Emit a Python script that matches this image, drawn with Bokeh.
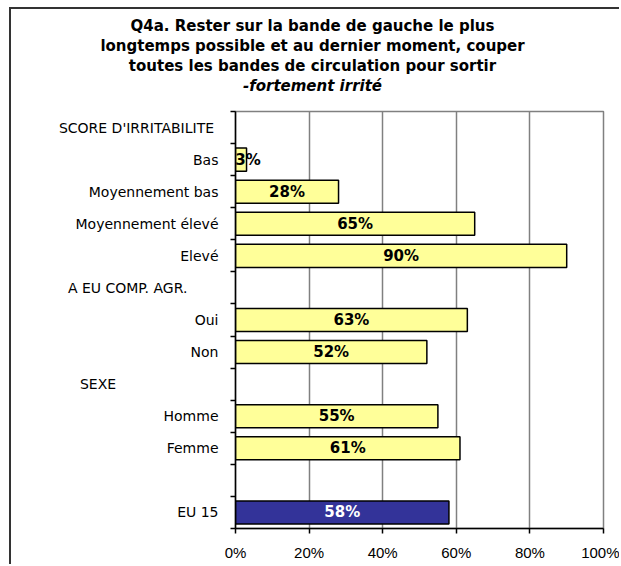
from bokeh.plotting import figure
from bokeh.models import (Range1d, FixedTicker, NumeralTickFormatter,
                          ColumnDataSource, LabelSet, LinearAxis)
from bokeh.core.properties import value
from bokeh.embed import file_html
from bokeh.resources import INLINE

# ---- data ----
title_lines = [
    "Q4a. Rester sur la bande de gauche le plus",
    "longtemps possible et au dernier moment, couper",
    "toutes les bandes de circulation pour sortir",
]
subtitle = "-fortement irrité"
categories = ["SCORE D'IRRITABILITE", "Bas", "Moyennement bas", "Moyennement élevé",
              "Elevé", "A EU COMP. AGR.", "Oui", "Non", "SEXE", "Homme", "Femme",
              "", "EU 15"]
values = [None, 3, 28, 65, 90, None, 63, 52, None, 55, 61, None, 58]
headers = ["SCORE D'IRRITABILITE", "A EU COMP. AGR.", "SEXE"]
highlight = ["EU 15"]
x_ticks = [0, 0.2, 0.4, 0.6, 0.8, 1.0]

# ---- styles / layout ----
YELLOW = "#FFFF99"
NAVY = "#333399"
FONT = "DejaVu Sans"
NBSP = "\u00a0"
header_pad = {"SCORE D'IRRITABILITE": 1, "A EU COMP. AGR.": 7, "SEXE": 23}
MIN_LABEL_CENTER = 0.034

n = len(categories)
centers = [i + 0.5 for i in range(n)]
bounds = list(range(n + 1))

bar_y, bar_v, bar_mid, bar_txt, bar_fill, bar_tc = [], [], [], [], [], []
for cat, y, v in zip(categories, centers, values):
    if v is None:
        continue
    bar_y.append(y)
    bar_v.append(v / 100)
    bar_mid.append(max(v / 200, MIN_LABEL_CENTER))
    bar_txt.append(f"{v}%")
    hi = cat in highlight
    bar_fill.append(NAVY if hi else YELLOW)
    bar_tc.append("white" if hi else "black")

bars = ColumnDataSource(dict(y=bar_y, v=bar_v, mid=bar_mid, txt=bar_txt,
                             fill=bar_fill, tc=bar_tc))

# canvas placed at page (11, 9) because of the outer frame (margin + border)
FL, FT, FW, FH = 224, 102, 368, 417
W = 610
H = 557

p = figure(width=W, height=H, x_range=Range1d(0, 1), y_range=Range1d(n, 0),
           output_backend="svg", toolbar_location=None,
           min_border_left=FL, min_border_top=FT,
           min_border_right=W - FL - FW, min_border_bottom=H - FT - FH)
p.background_fill_color = "white"
p.border_fill_color = "white"
p.outline_line_color = "#808080"
p.outline_line_width = 1.5
p.styles = {"margin-left": "9px", "margin-top": "7px",
            "border-left": "2px solid #333333", "border-top": "2px solid #333333"}

# x axis
p.xaxis.ticker = FixedTicker(ticks=x_ticks)
p.xaxis.formatter = NumeralTickFormatter(format="0%")
p.xaxis.axis_line_color = "black"
p.xaxis.axis_line_width = 1.5
p.xaxis.major_tick_line_color = "black"
p.xaxis.major_tick_line_width = 1.5
p.xaxis.major_tick_out = 5
p.xaxis.major_tick_in = 0
p.xaxis.minor_tick_line_color = None
p.xaxis.major_label_standoff = 10
p.xaxis.major_label_text_font = "Liberation Sans"
p.xaxis.major_label_text_font_size = "15px"
p.xaxis.major_label_text_color = "black"

# y axis: labels at row centres, tick marks at row boundaries
p.yaxis.ticker = FixedTicker(ticks=centers, minor_ticks=bounds)
p.yaxis.major_label_overrides = {
    y: (c + NBSP * header_pad[c]) if c in header_pad else c
    for c, y in zip(categories, centers)}
p.yaxis.major_tick_line_color = None
p.yaxis.major_tick_out = 0
p.yaxis.major_tick_in = 0
p.yaxis.minor_tick_line_color = "black"
p.yaxis.minor_tick_line_width = 1.5
p.yaxis.minor_tick_out = 5
p.yaxis.minor_tick_in = 0
p.yaxis.axis_line_color = "black"
p.yaxis.axis_line_width = 1.5
p.yaxis.major_label_standoff = 12
p.yaxis.major_label_text_font = FONT
p.yaxis.major_label_text_font_size = "14px"
p.yaxis.major_label_text_color = "black"

p.xgrid.ticker = FixedTicker(ticks=x_ticks)
p.xgrid.grid_line_color = "#808080"
p.xgrid.grid_line_width = 1.5
p.ygrid.grid_line_color = None

p.hbar(y="y", left=0, right="v", height=0.72, source=bars,
       fill_color="fill", line_color="black", line_width=1.5)

p.add_layout(LabelSet(x="mid", y="y", text="txt", source=bars,
                      text_align="center", text_baseline="middle",
                      text_font=value(FONT), text_font_style="bold",
                      text_font_size="15px", text_color="tc"))

# title: one above-axis per line, tick at the chart's horizontal centre
p.extra_x_ranges = {"title": Range1d(-77, 291)}
title_specs = [(subtitle, "bold italic", 17), (title_lines[2], "bold", -1),
               (title_lines[1], "bold", -1), (title_lines[0], "bold", -1)]
for text, style, standoff in title_specs:
    ax = LinearAxis(x_range_name="title", ticker=FixedTicker(ticks=[0]),
                    major_label_overrides={0: text})
    ax.axis_line_color = None
    ax.major_tick_line_color = None
    ax.minor_tick_line_color = None
    ax.major_tick_out = 0
    ax.major_tick_in = 0
    ax.major_label_standoff = standoff
    ax.major_label_text_font = FONT
    ax.major_label_text_font_style = style
    ax.major_label_text_font_size = "15px"
    ax.major_label_text_color = "black"
    p.add_layout(ax, "above")

open("out.html", "w").write(file_html(p, INLINE))
